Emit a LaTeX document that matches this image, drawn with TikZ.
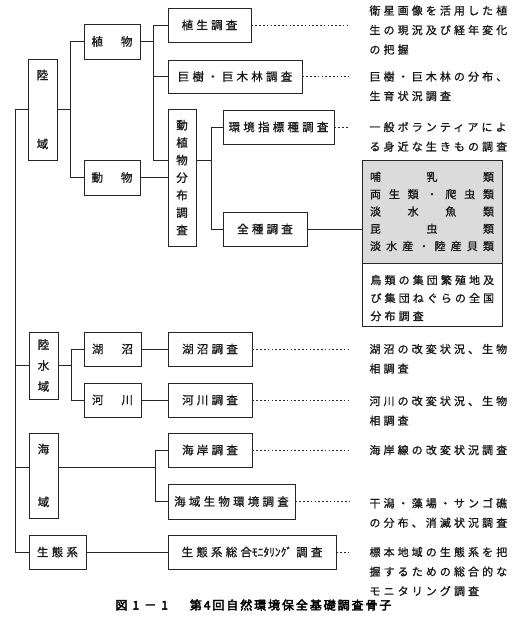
\documentclass[tikz,border=0pt]{standalone}
\usepackage{fontspec}
\setmainfont{Noto Sans CJK JP}
\newfontfamily\jp[LetterSpace=28,FakeBold=1]{Noto Sans CJK JP}
\newfontfamily\jpn[FakeBold=1]{Noto Sans CJK JP}
\newfontfamily\jpcap[FakeBold=3,LetterSpace=16]{Noto Sans CJK JP}
\begin{document}
\begin{tikzpicture}[x=1pt,y=-1pt,line width=1pt,
  bx/.style={draw=black!85, inner sep=0pt, text=black!90, font=\jp\fontsize{11.5}{14}\selectfont},
  vbx/.style={bx, align=center},
  desc/.style={anchor=north west, inner sep=0pt, align=left, text=black!90, font=\jp\fontsize{11}{19.5}\selectfont},
  dotline/.style={draw=black!85, line width=0.8pt, dash pattern=on 1.6pt off 2.2pt, shorten >=20pt},
  conn/.style={draw=black!85}]
\useasboundingbox (0,0) rectangle (517,619);
\fill[white] (0,0) rectangle (517,619);

% ---- boxes
\node[vbx, minimum width=29pt, minimum height=101pt, font=\jp\fontsize{11.5}{69}\selectfont] (rikuiki) at (42.5,109.5) {陸\\域};
\node[bx, minimum width=56pt, minimum height=35pt] (shokubutsu) at (112,41.5) {植\hspace{18pt}物};
\node[bx, minimum width=56pt, minimum height=35pt] (doubutsu) at (112,177.5) {動\hspace{18pt}物};
\node[bx, minimum width=83pt, minimum height=34pt] (shokusei) at (209.5,25) {植生調査};
\node[bx, minimum width=134pt, minimum height=33pt] (kyoju) at (235,76.5) {巨樹・巨木林調査};
\node[vbx, minimum width=28pt, minimum height=137pt, font=\jp\fontsize{11.5}{17.5}\selectfont] (doushoku) at (182,177.5) {動\\植\\物\\分\\布\\調\\査};
\node[bx, minimum width=111pt, minimum height=34pt] (kankyo) at (278.5,127) {環境指標種調査};
\node[bx, minimum width=84pt, minimum height=34pt] (zenshu) at (265,229) {全種調査};

\node[draw=black!85, fill=black!14, inner sep=0pt, minimum width=140pt, minimum height=103pt, align=center, text=black!90, font=\jpn\fontsize{11}{17.3}\selectfont] (ani) at (432,211.5)
 {\makebox[124pt][s]{哺\hfill 乳\hfill 類}\\
  \makebox[124pt][s]{両\hfill 生\hfill 類\hfill ・\hfill 爬\hfill 虫\hfill 類}\\
  \makebox[124pt][s]{淡\hfill 水\hfill 魚\hfill 類}\\
  \makebox[124pt][s]{昆\hfill 虫\hfill 類}\\
  \makebox[124pt][s]{淡\hfill 水\hfill 産\hfill ・\hfill 陸\hfill 産\hfill 貝\hfill 類}};
\node[draw=black!85, inner sep=0pt, minimum width=140pt, minimum height=63pt] (bird) at (432,294.5) {};
\node[desc, font=\jp\fontsize{11}{18}\selectfont] (birdt) at (370,274.5) {鳥類の集団繁殖地及\\び集団ねぐらの全国\\分布調査};

\node[vbx, minimum width=29pt, minimum height=67pt, font=\jp\fontsize{11.5}{21}\selectfont] (rikusui) at (43.5,365.5) {陸\\水\\域};
\node[bx, minimum width=57pt, minimum height=34pt] (koshou) at (112.5,349) {湖\hspace{18pt}沼};
\node[bx, minimum width=57pt, minimum height=34pt] (kasen) at (112.5,400) {河\hspace{18pt}川};
\node[bx, minimum width=84pt, minimum height=34pt] (koshouch) at (210,349) {湖沼調査};
\node[bx, minimum width=84pt, minimum height=34pt] (kasench) at (210,400) {河川調査};

\node[vbx, minimum width=29pt, minimum height=85pt, font=\jp\fontsize{11.5}{53}\selectfont] (kaiiki) at (43.5,475.5) {海\\域};
\node[bx, minimum width=84pt, minimum height=34pt] (kaigan) at (210,450) {海岸調査};
\node[bx, minimum width=127pt, minimum height=35pt] (kaiikisei) at (231.5,501.5) {海域生物環境調査};

\node[bx, minimum width=57pt, minimum height=34pt] (seitai) at (57.5,552) {生態系};
\node[bx, minimum width=168pt, minimum height=34pt] (seitaich) at (252,552) {生態系総合{\jpn\fontsize{11.5}{14}\selectfont ﾓﾆﾀﾘﾝｸﾞ}\hspace{4pt}調査};

% ---- descriptions
\node[desc] (t1) at (369,5) {衛星画像を活用した植\\生の現況及び経年変化\\の把握};
\node[desc] (t2) at (369,71) {巨樹・巨木林の分布、\\生育状況調査};
\node[desc] (t3) at (369,121.5) {一般ボランティアによ\\る身近な生きもの調査};
\node[desc] (t4) at (369,343.5) {湖沼の改変状況、生物\\相調査};
\node[desc] (t5) at (369,395.5) {河川の改変状況、生物\\相調査};
\node[desc] (t6) at (369,444.5) {海岸線の改変状況調査};
\node[desc] (t7) at (369,497.5) {干潟・藻場・サンゴ礁\\の分布、消滅状況調査};
\node[desc] (t8) at (369,546.5) {標本地域の生態系を把\\握するための総合的な\\モニタリング調査};

% ---- caption
\node[inner sep=0pt, text=black, font=\jpcap\fontsize{12}{14}\selectfont] (cap) at (253.5,605) {図\hspace{5pt}1\hspace{5pt}－\hspace{5pt}1\hspace{22pt}第4回自然環境保全基礎調査骨子};

% ---- junction coordinates
\coordinate (spine) at (15,0);
\coordinate (b1) at (70,0);
\coordinate (b2) at (153,0);
\coordinate (b3) at (211,0);
\coordinate (b4) at (71,0);
\coordinate (b5) at (155,0);

% ---- connectors
\draw[conn] (rikuiki.west) -- (rikuiki.west -| spine) |- (seitai.west);
\draw[conn] (rikusui.west -| spine) -- (rikusui.west);
\draw[conn] ([yshift=8.5pt]kaiiki.west -| spine) -- ([yshift=8.5pt]kaiiki.west);

\draw[conn] (rikuiki.east) -- (rikuiki.east -| b1);
\draw[conn] (shokubutsu.west) -- (shokubutsu.west -| b1) |- (doubutsu.west);

\draw[conn] (shokubutsu.east) -- (shokubutsu.east -| b2);
\draw[conn] (shokusei.west) -- (shokusei.west -| b2) |- ([yshift=17.5pt]doushoku.west);
\draw[conn] (kyoju.west -| b2) -- (kyoju.west);
\draw[conn] (doubutsu.east) -- (doushoku.west);

\draw[conn] ([yshift=17.5pt]doushoku.east) -- ([yshift=17.5pt]doushoku.east -| b3);
\draw[conn] (kankyo.west) -- (kankyo.west -| b3) |- (zenshu.west);
\draw[conn] (zenshu.east) -- (zenshu.east -| ani.west);

\draw[conn] (rikusui.east) -- (rikusui.east -| b4);
\draw[conn] (koshou.west) -- (koshou.west -| b4) |- (kasen.west);
\draw[conn] (koshou.east) -- (koshouch.west);
\draw[conn] (kasen.east) -- (kasench.west);

\draw[conn] ([yshift=8.5pt]kaiiki.east) -- ([yshift=8.5pt]kaiiki.east -| b5);
\draw[conn] (kaigan.west) -- (kaigan.west -| b5) |- (kaiikisei.west);

\draw[conn] (seitai.east) -- (seitaich.west);

% ---- dotted leaders
\draw[dotline] (shokusei.east) -- (shokusei.east -| t1.west);
\draw[dotline] (kyoju.east) -- (kyoju.east -| t2.west);
\draw[dotline] (kankyo.east) -- (kankyo.east -| t3.west);
\draw[dotline] (koshouch.east) -- (koshouch.east -| t4.west);
\draw[dotline] (kasench.east) -- (kasench.east -| t5.west);
\draw[dotline] (kaigan.east) -- (kaigan.east -| t6.west);
\draw[dotline] (kaiikisei.east) -- (kaiikisei.east -| t7.west);
\draw[dotline] (seitaich.east) -- (seitaich.east -| t8.west);
\end{tikzpicture}
\end{document}
